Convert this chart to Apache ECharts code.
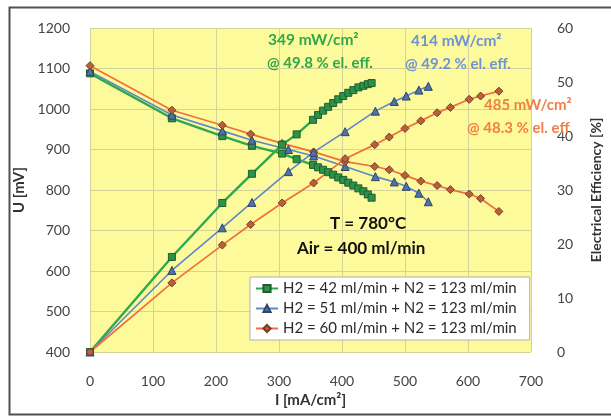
<!DOCTYPE html>
<html>
<head>
<meta charset="utf-8">
<script src="https://cdn.jsdelivr.net/npm/echarts@6/dist/echarts.min.js"></script>
<style>
  html, body { margin: 0; padding: 0; background: #ffffff; }
  #chart { width: 611px; height: 416px; }
</style>
</head>
<body>
<div id="chart"></div>
<script>
// Fuel cell test at 780 °C, air 400 ml/min: cell voltage and electrical efficiency vs current density
const seriesNames = [
  'H2 = 42 ml/min + N2 = 123 ml/min',
  'H2 = 51 ml/min + N2 = 123 ml/min',
  'H2 = 60 ml/min + N2 = 123 ml/min'
];

// H2 = 42 ml/min
const currentGreen = [0, 130, 210, 257, 305, 328, 354, 362, 370, 378, 386, 394, 402, 410, 418, 426, 434, 441, 447];
const voltageGreen = [1088, 977, 933, 909, 890, 876, 862, 856, 850, 844, 838, 831, 825, 818, 811, 804, 797, 789, 781];
const effGreen = [0, 17.6, 27.6, 33.0, 38.4, 40.3, 43.0, 43.9, 44.7, 45.4, 46.1, 46.8, 47.4, 48.0, 48.5, 49.0, 49.3, 49.6, 49.8];

// H2 = 51 ml/min
const currentBlue = [0, 130, 210, 257, 315, 355, 405, 453, 483, 502, 522, 537];
const voltageBlue = [1093, 985, 946, 923, 900, 884, 858, 833, 820, 809, 792, 771];
const effBlue = [0, 15.1, 23.0, 27.7, 33.4, 37.0, 40.8, 44.6, 46.4, 47.4, 48.5, 49.2];

// H2 = 60 ml/min
const currentOrange = [0, 130, 210, 255, 305, 355, 405, 452, 475, 500, 525, 551, 572, 602, 620, 649];
const voltageOrange = [1107, 997, 960, 938, 915, 894, 870, 858, 850, 836, 822, 811, 801, 790, 779, 747];
const effOrange = [0, 12.8, 19.8, 23.6, 27.6, 31.3, 35.8, 38.4, 39.8, 41.4, 42.8, 44.3, 45.3, 46.8, 47.4, 48.3];

// Peak power annotations
const peakNotes = [
  { power: '349 mW/cm²', eff: '@ 49.8 % el. eff.' },
  { power: '414 mW/cm²', eff: '@ 49.2 % el. eff.' },
  { power: '485 mW/cm²', eff: '@ 48.3 % el. eff' }
];
const conditionNotes = ['T = 780°C', 'Air = 400 ml/min'];

const FONT = 'Lato, "Open Sans", sans-serif';

const pairs = (xs, ys) => xs.map((x, i) => [x, ys[i]]);

const styles = [
  { line: '#2fa84c', fill: '#2b9246', border: '#1f5e33', symbol: 'rect', size: 7, width: 2.4, text: '#2ea84a' },
  { line: '#5b88cc', fill: '#4f73a8', border: '#2f4466', symbol: 'triangle', size: 8, width: 1.6, text: '#6d93d6' },
  { line: '#f0703a', fill: '#b8603e', border: '#7a3a22', symbol: 'diamond', size: 8, width: 1.7, text: '#f08046' }
];

function makeSeries(name, st, data, yIndex) {
  return {
    name: name,
    type: 'line',
    yAxisIndex: yIndex,
    data: data,
    symbol: st.symbol,
    symbolSize: st.size,
    showAllSymbol: true,
    lineStyle: { color: st.line, width: st.width },
    itemStyle: { color: st.fill, borderColor: st.border, borderWidth: 1 },
    emphasis: { disabled: true },
    animation: false
  };
}

const series = [
  makeSeries(seriesNames[0], styles[0], pairs(currentGreen, voltageGreen), 0),
  makeSeries(seriesNames[1], styles[1], pairs(currentBlue, voltageBlue), 0),
  makeSeries(seriesNames[2], styles[2], pairs(currentOrange, voltageOrange), 0),
  makeSeries(seriesNames[0], styles[0], pairs(currentGreen, effGreen), 1),
  makeSeries(seriesNames[1], styles[1], pairs(currentBlue, effBlue), 1),
  makeSeries(seriesNames[2], styles[2], pairs(currentOrange, effOrange), 1)
];

// Free text placed by its vertical centre
function note(text, x, yCenter, color, size) {
  return {
    type: 'text',
    left: x, top: yCenter - Math.round(size * 0.62),
    z: 100,
    style: {
      text: text,
      fill: color,
      font: 'bold ' + size + 'px ' + FONT
    }
  };
}

const plainNumber = v => String(v);

const chart = echarts.init(document.getElementById('chart'), null, { renderer: 'canvas' });

chart.setOption({
  backgroundColor: '#ffffff',
  animation: false,
  textStyle: { fontFamily: FONT },
  grid: {
    left: 90, right: 73, top: 28, bottom: 64,
    show: true,
    backgroundColor: '#fdfa9c',
    borderWidth: 0
  },
  legend: {
    data: seriesNames,
    orient: 'vertical',
    left: 250, top: 277,
    padding: [4, 13, 4, 5],
    itemGap: 5,
    itemWidth: 22,
    itemHeight: 9,
    backgroundColor: '#ffffff',
    borderColor: '#b0b0b0',
    borderWidth: 1,
    borderRadius: 0,
    textStyle: { fontSize: 15, color: '#2a2a2a', fontFamily: FONT }
  },
  xAxis: {
    type: 'value',
    min: 0, max: 700, interval: 100,
    name: 'I [mA/cm²]',
    nameLocation: 'middle',
    nameGap: 38,
    nameTextStyle: { fontSize: 15, fontWeight: 'bold', color: '#333333', fontFamily: FONT },
    axisLine: { show: false },
    axisTick: { show: false },
    axisLabel: { fontSize: 14, color: '#444444', margin: 22, fontFamily: FONT, formatter: plainNumber },
    splitLine: { show: true, lineStyle: { color: '#d6d39a', width: 1 } }
  },
  yAxis: [
    {
      type: 'value',
      min: 400, max: 1200, interval: 100,
      name: 'U [mV]',
      nameLocation: 'middle',
      nameGap: 55,
      nameTextStyle: { fontSize: 15, fontWeight: 'bold', color: '#333333', fontFamily: FONT },
      axisLine: { show: false },
      axisTick: { show: false },
      axisLabel: { fontSize: 14, color: '#444444', margin: 20, fontFamily: FONT, formatter: plainNumber },
      splitLine: { show: true, lineStyle: { color: '#d6d39a', width: 1 } }
    },
    {
      type: 'value',
      min: 0, max: 60, interval: 10,
      name: 'Electrical Efficiency [%]',
      nameLocation: 'middle',
      nameGap: 58,
      nameRotate: 90,
      nameTextStyle: { fontSize: 14, fontWeight: 'bold', color: '#333333', fontFamily: FONT },
      axisLine: { show: false },
      axisTick: { show: false },
      axisLabel: { fontSize: 14, color: '#444444', margin: 26, fontFamily: FONT, formatter: plainNumber },
      splitLine: { show: false }
    }
  ],
  series: series,
  graphic: [
    {
      type: 'rect',
      left: 7, top: 5,
      shape: { width: 640, height: 407 },
      style: { fill: 'none', stroke: '#505050', lineWidth: 2 },
      z: 200, silent: true
    },
    note(peakNotes[0].power, 268, 42, styles[0].text, 15.5),
    note(peakNotes[0].eff, 267, 65, styles[0].text, 15),
    note(peakNotes[1].power, 411, 43, styles[1].text, 15.5),
    note(peakNotes[1].eff, 405, 66, styles[1].text, 15),
    note(peakNotes[2].power, 484, 107, styles[2].text, 15),
    note(peakNotes[2].eff, 467, 130, styles[2].text, 15),
    note(conditionNotes[0], 330, 226, '#111111', 17),
    note(conditionNotes[1], 297, 251, '#111111', 17)
  ]
});
</script>
</body>
</html>
